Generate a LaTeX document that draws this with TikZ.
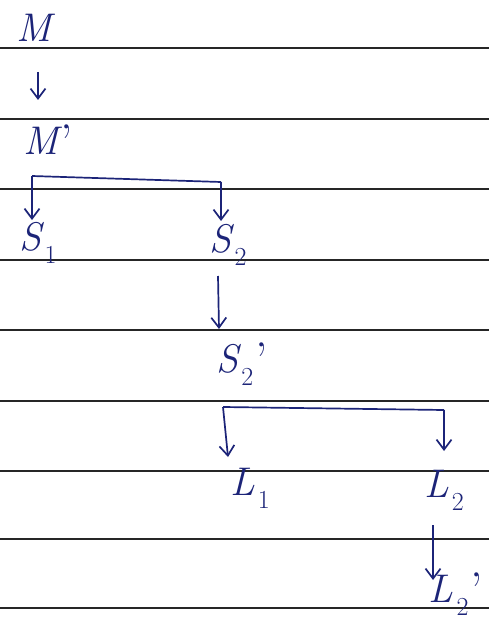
\documentclass[tikz,border=0pt]{standalone}
\usetikzlibrary{arrows.meta}
\definecolor{ink}{RGB}{28,36,120}
\newcommand\sbx[1]{\hspace{0.08em}\raisebox{-0.32em}{\fontsize{26}{28}\selectfont\upshape #1}}
\newcommand\prm{\hspace{0.05em}\raisebox{-0.12em}{\fontsize{50}{50}\selectfont\upshape\char"2019}}
\begin{document}
\begin{tikzpicture}[x=1pt,y=-1pt,
  rule/.style={line width=1.8pt,black!85},
  lbl/.style={text=ink,font=\fontsize{40}{44}\selectfont\itshape,inner sep=1pt},
  arr/.style={draw=ink,line width=1.7pt,-{Straight Barb[length=10pt,width=15pt,line width=1.7pt]}},
  bar/.style={draw=ink,line width=1.7pt}]
\useasboundingbox (0,0) rectangle (489,631);
\foreach \y in {48,119,189,260,330,401,471,539,608}
  \draw[rule] (0,\y) -- (489,\y);
\node[lbl] (M) at (34,28) {M};
\node[lbl] (Mp) at (48,142) {M\prm};
\node[lbl] (S1) at (38,243) {S\sbx{1}};
\node[lbl] (S2) at (228,245) {S\sbx{2}};
\node[lbl] (S2p) at (242,364) {S\sbx{2}\prm};
\node[lbl] (L1) at (250,488) {L\sbx{1}};
\node[lbl] (L2) at (444,490) {L\sbx{2}};
\node[lbl] (L2p) at (456,594) {L\sbx{2}\prm};
% M -> M'
\coordinate (a1) at (38,72);
\coordinate (a2) at (38,100);
\draw[arr] (a1) -- (a2);
% bracket from M'
\coordinate (b1) at (32,176);
\coordinate (b2) at (221,182);
\coordinate (b1e) at (32,220);
\coordinate (b2e) at (221,221);
\draw[bar] (b1) -- (b2);
\draw[arr] (b1) -- (b1e);
\draw[arr] (b2) -- (b2e);
% S2 -> S2'
\coordinate (c1) at (218,276);
\coordinate (c2) at (219,329);
\draw[arr] (c1) -- (c2);
% bracket from S2'
\coordinate (d1) at (223,407);
\coordinate (d2) at (444,410);
\coordinate (d1e) at (228,457);
\coordinate (d2e) at (444,451);
\draw[bar] (d1) -- (d2);
\draw[arr] (d1) -- (d1e);
\draw[arr] (d2) -- (d2e);
% L2 -> L2'
\coordinate (e1) at (433,525);
\coordinate (e2) at (433,580);
\draw[arr] (e1) -- (e2);
\end{tikzpicture}
\end{document}
